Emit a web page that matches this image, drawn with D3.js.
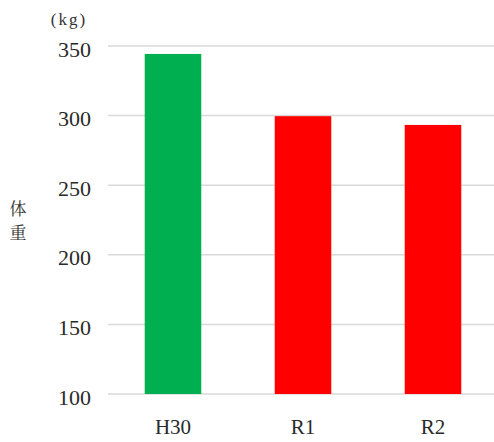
<!DOCTYPE html>
<html>
<head>
<meta charset="utf-8">
<script src="https://cdn.jsdelivr.net/npm/d3@7"></script>
<style>
  html, body { margin: 0; padding: 0; background: #fff; }
  svg { display: block; }
</style>
</head>
<body>
<svg id="chart" width="494" height="442"></svg>
<script>
// Body weight by year
const categories = ["H30", "R1", "R2"];
const weights = [344.3, 299.6, 293.3];
const barColors = ["#00B050", "#FF0000", "#FF0000"];
const yTicks = [100, 150, 200, 250, 300, 350];
const unitLabel = "(kg)";
const axisTitle = ["体", "重"];

const svg = d3.select("#chart");
const serif = "'Liberation Serif', 'DejaVu Serif', serif";

const x = d3.scaleBand()
  .domain(categories)
  .range([108, 498])
  .paddingInner(0.565)
  .paddingOuter(0.2825);

const y = d3.scaleLinear()
  .domain([100, 350])
  .range([394, 46]);

// Horizontal gridlines
svg.append("g")
  .selectAll("line")
  .data(yTicks)
  .join("line")
  .attr("x1", 108)
  .attr("x2", 494)
  .attr("y1", d => y(d))
  .attr("y2", d => y(d))
  .attr("stroke", "#d9d9d9")
  .attr("stroke-width", 1.5);

// Bars
svg.append("g")
  .selectAll("rect")
  .data(categories)
  .join("rect")
  .attr("x", d => x(d))
  .attr("width", x.bandwidth())
  .attr("y", (d, i) => y(weights[i]))
  .attr("height", (d, i) => y(100) - y(weights[i]))
  .attr("fill", (d, i) => barColors[i]);

// Y tick labels
const yAxis = d3.axisLeft(y).tickValues(yTicks).tickSize(0).tickPadding(0);
const gy = svg.append("g")
  .attr("transform", "translate(91,3)")
  .call(yAxis);
gy.select(".domain").remove();
gy.selectAll("text")
  .attr("font-family", serif)
  .attr("font-size", 22)
  .attr("fill", "#2a2a2a");

// X tick labels
const xAxis = d3.axisBottom(x).tickSize(0).tickPadding(0);
const gx = svg.append("g")
  .attr("transform", "translate(0,419)")
  .call(xAxis);
gx.select(".domain").remove();
gx.selectAll("text")
  .attr("dy", "0.71em")
  .attr("font-family", serif)
  .attr("font-size", 21)
  .attr("fill", "#2a2a2a");

// Unit label
svg.append("text")
  .attr("x", 69)
  .attr("y", 25)
  .attr("text-anchor", "middle")
  .attr("font-family", serif)
  .attr("font-size", 17)
  .attr("letter-spacing", 2)
  .attr("fill", "#333")
  .text(unitLabel);

// Vertical axis title
svg.append("g")
  .selectAll("text")
  .data(axisTitle)
  .join("text")
  .attr("x", 18)
  .attr("y", (d, i) => 215 + i * 24)
  .attr("text-anchor", "middle")
  .attr("font-family", "'Noto Serif CJK JP', 'Noto Sans CJK JP', sans-serif")
  .attr("font-size", 17)
  .attr("fill", "#333")
  .text(d => d);
</script>
</body>
</html>
